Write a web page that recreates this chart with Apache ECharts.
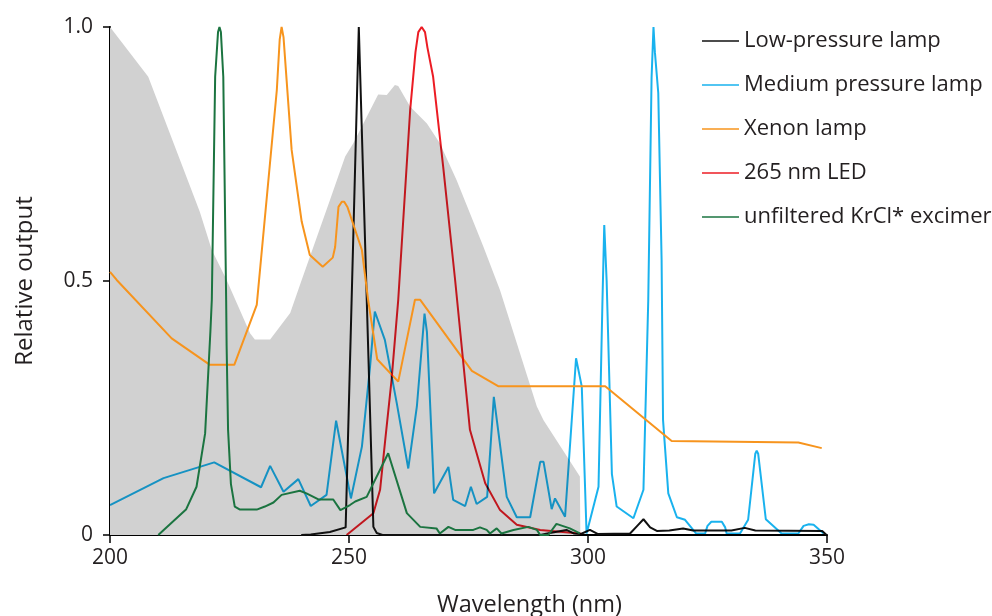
<!DOCTYPE html>
<html><head><meta charset="utf-8">
<script src="https://cdn.jsdelivr.net/npm/echarts@6/dist/echarts.min.js"></script>
<style>html,body{margin:0;padding:0;background:#fff}#c{width:992px;height:616px}</style>
</head><body><div id="c"></div>
<script>
const xTicks = [200, 250, 300, 350];
const yTicks = [0, 0.5, 1.0];
const yTickLabels = ['0', '0.5', '1.0'];
const seriesNames = ['Low-pressure lamp', 'Medium pressure lamp', 'Xenon lamp', '265 nm LED', 'unfiltered KrCl* excimer'];
const seriesColors = ['#111111', '#19b2ee', '#f7941d', '#ec1c24', '#1b7440'];
const seriesBlend = ['source-over', 'multiply', 'source-over', 'multiply', 'source-over'];

const actionSpectrum = [[200,1.0],[208.0,0.902],[218.8,0.636],[221.3,0.561],[224.4,0.502],[229.3,0.397],[230.3,0.385],[233.5,0.385],[237.7,0.437],[240.1,0.502],[246.0,0.659],[249.2,0.745],[250.9,0.771],[256.1,0.867],[257.9,0.866],[259.6,0.886],[260.3,0.884],[262.8,0.843],[266.3,0.810],[269.0,0.771],[272.5,0.699],[278.1,0.568],[281.6,0.482],[289.3,0.253],[290.7,0.226],[298.3,0.115],[298.4,0]];

const lowPressure = [[240,0],[242,0.001],[246,0.006],[249.3,0.015],[252.05,1.0],[255.1,0.016],[255.8,0.004],[257,0],[290,0],[292,0.004],[295.5,0.01],[297,0.003],[298.5,0.002],[300.4,0.01],[302,0.002],[308.8,0.003],[310.5,0.02],[311.6,0.031],[313,0.015],[314.4,0.008],[317,0.009],[319.9,0.013],[322,0.009],[330,0.009],[332.8,0.014],[335,0.009],[349,0.008],[349.9,0]];

const mediumPressure = [[200,0.059],[211.2,0.112],[221.8,0.143],[231.6,0.094],[233.5,0.136],[236.3,0.085],[239.4,0.110],[242.0,0.057],[245.3,0.079],[247.3,0.225],[250.4,0.072],[252.7,0.174],[254.4,0.331],[255.4,0.44],[257.5,0.384],[260.0,0.259],[262.4,0.131],[264.2,0.253],[265.8,0.436],[266.3,0.40],[267.8,0.082],[270.8,0.134],[271.8,0.069],[274.3,0.057],[275.5,0.095],[276.7,0.061],[278.9,0.075],[280.3,0.272],[283.0,0.075],[285.1,0.035],[287.9,0.035],[290.0,0.144],[290.7,0.144],[292.4,0.051],[293.1,0.072],[295.2,0.036],[297.5,0.348],[298.7,0.292],[299.7,0.003],[302.2,0.095],[303.0,0.45],[303.4,0.61],[303.9,0.50],[305.0,0.12],[306.0,0.056],[309.5,0.033],[311.6,0.089],[312.6,0.46],[313.3,0.9],[313.7,1.0],[314.0,0.95],[314.7,0.87],[315.4,0.54],[315.7,0.226],[316.8,0.082],[318.6,0.035],[320.3,0.030],[322.6,0.003],[324.5,0.003],[325.0,0.018],[325.8,0.026],[328.0,0.026],[328.7,0.015],[329.0,0.003],[331.8,0.003],[333.5,0.03],[335.0,0.16],[335.3,0.166],[335.6,0.16],[337.2,0.031],[340.5,0.003],[344.0,0.003],[345.1,0.018],[346.2,0.021],[347.2,0.02],[349.3,0.003]];

const xenon = [[200,0.518],[201.4,0.502],[212.9,0.387],[220.9,0.335],[226.0,0.335],[230.7,0.453],[234.9,0.876],[235.5,0.975],[235.9,1.0],[236.3,0.98],[238.0,0.758],[240.1,0.617],[241.8,0.551],[244.5,0.528],[246.6,0.546],[247.1,0.567],[247.8,0.646],[248.5,0.656],[249.0,0.656],[249.7,0.645],[252.7,0.561],[254.0,0.463],[255.9,0.346],[260.3,0.302],[262.8,0.417],[263.8,0.463],[264.9,0.463],[275.7,0.323],[281.2,0.293],[303.6,0.293],[317.5,0.185],[344.0,0.182],[348.9,0.171]];

const led265 = [[249.5,0],[255.1,0.043],[256.5,0.089],[257.5,0.18],[258.9,0.305],[260.3,0.463],[262.8,0.837],[263.9,0.95],[264.5,0.99],[265.2,1.0],[265.9,0.99],[266.4,0.96],[267.6,0.902],[269.7,0.725],[272.2,0.502],[275.3,0.207],[278.5,0.102],[281.6,0.049],[285.1,0.02],[290,0.01],[298.3,0.003],[299,0]];

const krcl = [[210.1,0],[215.9,0.05],[218.1,0.095],[219.9,0.2],[221.0,0.4],[221.3,0.463],[222.0,0.902],[222.6,0.99],[222.9,1.0],[223.2,0.99],[223.7,0.902],[224.3,0.463],[224.4,0.371],[224.7,0.207],[225.3,0.1],[226.1,0.056],[227.2,0.05],[230.7,0.05],[232.4,0.056],[234.2,0.064],[235.9,0.079],[239.7,0.087],[241.1,0.082],[243.6,0.07],[246.7,0.07],[248.2,0.049],[250.2,0.059],[251.3,0.066],[253.7,0.075],[258.2,0.161],[262.1,0.043],[264.9,0.016],[268.3,0.013],[269.0,0.003],[270.8,0.016],[272.2,0.01],[276.0,0.01],[277.4,0.015],[278.8,0.01],[279.5,0.003],[280.9,0.013],[281.2,0.013],[281.9,0.003],[284.4,0.01],[287.5,0.016],[289.3,0.01],[290,0],[291.7,0],[293.4,0.022],[296.2,0.013],[298.3,0.003]];

const seriesData = [lowPressure, mediumPressure, xenon, led265, krcl];
const FONT = 'Open Sans';

const chart = echarts.init(document.getElementById('c'), null, {renderer: 'canvas'});
const lineSeries = seriesNames.map((name, i) => ({
  name: name,
  type: 'line',
  data: seriesData[i],
  showSymbol: false,
  symbol: 'none',
  smooth: false,
  animation: false,
  blendMode: seriesBlend[i],
  z: 3,
  lineStyle: {color: seriesColors[i], width: 2},
  itemStyle: {color: seriesColors[i]}
}));

chart.setOption({
  animation: false,
  backgroundColor: '#ffffff',
  grid: {left: 110, right: 165, top: 27, bottom: 81, containLabel: false, outerBoundsMode: 'none'},
  legend: {
    orient: 'vertical',
    left: 697,
    top: 24,
    icon: 'rect',
    itemWidth: 37,
    itemHeight: 1.5,
    itemGap: 20,
    data: seriesNames,
    textStyle: {fontFamily: FONT, fontSize: 22, color: '#231f20', lineHeight: 24, padding: [0,0,0,0]},
    selectedMode: false
  },
  xAxis: {
    type: 'value',
    min: xTicks[0], max: xTicks[xTicks.length-1], interval: 50,
    name: 'Wavelength (nm)',
    nameLocation: 'middle',
    nameGap: 58,
    nameTextStyle: {fontFamily: FONT, fontSize: 23.5, color: '#231f20', padding: [0,0,0,122]},
    axisLine: {show: true, onZero: false, lineStyle: {color: '#000', width: 2}},
    axisTick: {show: true, length: 8, lineStyle: {color: '#000', width: 1.5}},
    axisLabel: {fontFamily: FONT, fontSize: 21, color: '#231f20', margin: 13},
    splitLine: {show: false}
  },
  yAxis: {
    type: 'value',
    min: yTicks[0], max: yTicks[yTicks.length-1], interval: 0.5,
    name: 'Relative output',
    nameLocation: 'middle',
    nameGap: 73,
    nameTextStyle: {fontFamily: FONT, fontSize: 24, color: '#231f20'},
    axisLine: {show: true, lineStyle: {color: '#000', width: 2}},
    axisTick: {show: true, length: 7, lineStyle: {color: '#000', width: 1.5}},
    axisLabel: {fontFamily: FONT, fontSize: 21, color: '#231f20', margin: 17,
      formatter: function (v) { const k = yTicks.indexOf(v); return k >= 0 ? yTickLabels[k] : ''; }},
    splitLine: {show: false}
  },
  series: [{
    name: 'action',
    type: 'line',
    data: actionSpectrum,
    showSymbol: false,
    symbol: 'none',
    z: 1,
    lineStyle: {width: 0, opacity: 0},
    areaStyle: {color: '#d1d1d1', opacity: 1, origin: 'start'},
    silent: true
  }].concat(lineSeries)
});
</script>
</body></html>
